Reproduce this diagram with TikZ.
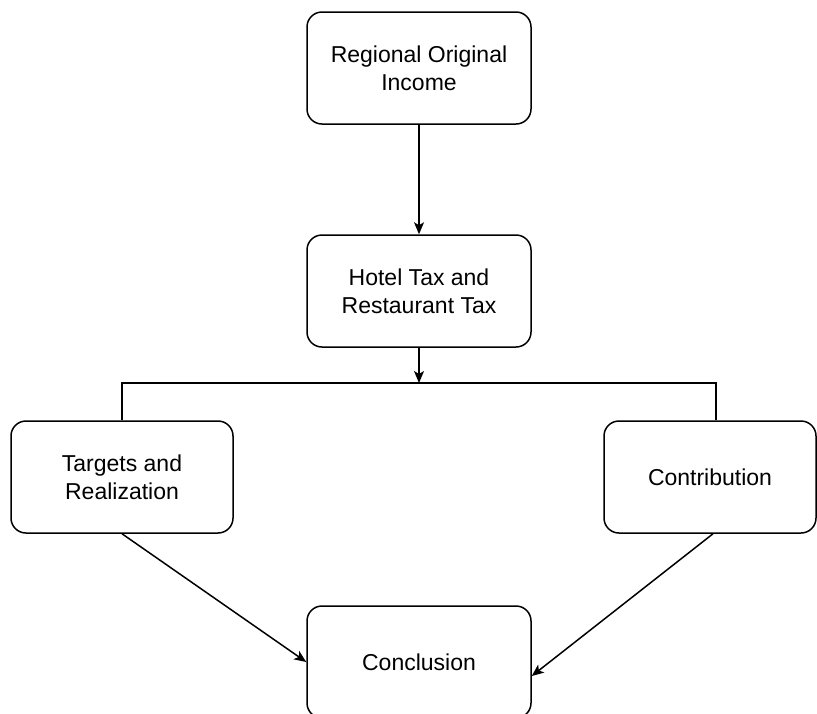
\documentclass[tikz,border=0pt]{standalone}
\usepackage{fontspec}
\setmainfont{Liberation Sans}
\usepackage{tikz}
\usetikzlibrary{arrows.meta, positioning}
\tikzset{
    % Base style for all boxes
    box base/.style={
        font=\fontsize{11.5}{14}\selectfont,
        align=center,
        text=black,
        draw=black,
        line width=0.75pt,
        rectangle,
        rounded corners=7.5pt,
        minimum height=56pt,
        inner sep=2pt,
    },
    % Wide boxes in the middle column
    process/.style={
        box base,
        minimum width=112pt,
    },
    % Side boxes
    side/.style={
        box base,
        minimum width=111pt,
    },
    % Plain connector
    link/.style={
        line width=0.75pt,
        draw=black,
    },
    % Arrow style
    arrow/.style={
        link,
        -{Stealth[length=6pt, width=5pt, inset=1.5pt]},
    },
}

\begin{document}
\begin{tikzpicture}[x=0.5pt, y=-0.5pt]
    \useasboundingbox (0,0) rectangle (817,713);
    \node (income) [process] at (419,68) {Regional Original\\Income};
    \node (hotel) [process] at (419,291) {Hotel Tax and\\Restaurant Tax};
    \coordinate (split) at (419,383);
    \node (targets) [side] at (122,477) {Targets and\\Realization};
    \node (contrib) [side, minimum width=106pt] at (710,477) {Contribution};
    \node (concl) [process] at (419,662) {Conclusion};

    \draw [arrow] (income) -- (hotel);
    \draw [arrow] (hotel) -- (split);
    \draw [link] (targets.north) |- (split) -| ([xshift=3pt]contrib.north);
    \draw [arrow] (targets.south) -- (concl.west);
    \draw [arrow] ([xshift=1.5pt]contrib.south) -- ([yshift=-7pt]concl.east);
\end{tikzpicture}
\end{document}
